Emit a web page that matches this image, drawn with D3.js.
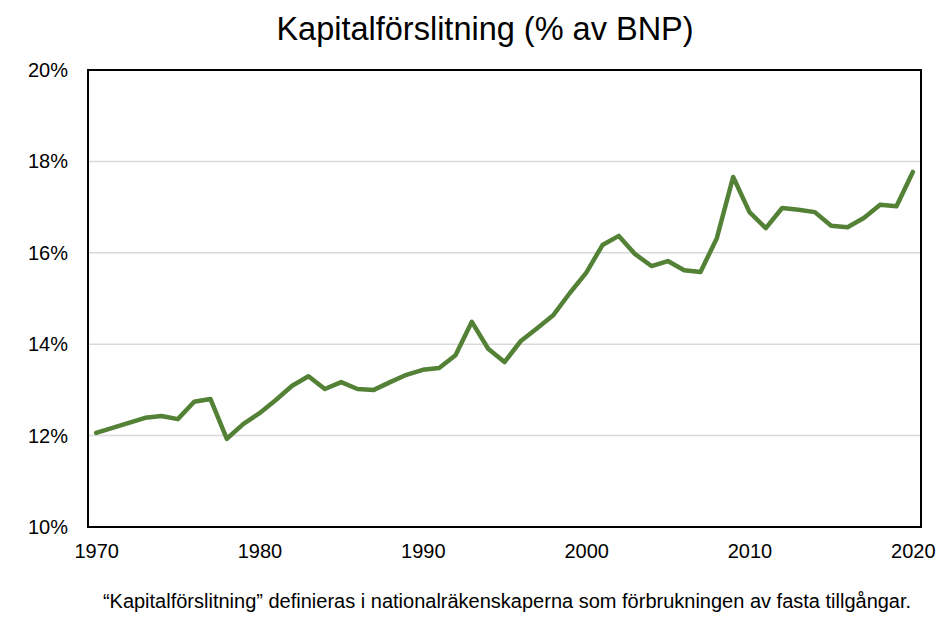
<!DOCTYPE html>
<html>
<head>
<meta charset="utf-8">
<script src="https://cdn.jsdelivr.net/npm/d3@7"></script>
<style>
  body { margin: 0; background: #fff; }
  text { font-family: "Liberation Sans", Arial, sans-serif; fill: #000; }
</style>
</head>
<body>
<figure style="margin:0"></figure>
<script>
// data
var years = d3.range(1970, 2021);
var values = [
  12.06, 12.17, 12.28, 12.39, 12.43, 12.36, 12.74, 12.80, 11.93, 12.25,
  12.49, 12.78, 13.09, 13.30, 13.02, 13.17, 13.02, 13.00, 13.17, 13.33,
  13.44, 13.48, 13.76, 14.49, 13.90, 13.61, 14.07, 14.35, 14.64, 15.12,
  15.56, 16.17, 16.37, 15.97, 15.71, 15.82, 15.62, 15.58, 16.32, 17.66,
  16.89, 16.54, 16.98, 16.94, 16.89, 16.59, 16.56, 16.76, 17.05, 17.02,
  17.77
];
var yTicks = [10, 12, 14, 16, 18, 20];
var xTicks = [1970, 1980, 1990, 2000, 2010, 2020];
var title = "Kapitalförslitning (% av BNP)";
var note = "\u201CKapitalförslitning\u201D definieras i nationalräkenskaperna som förbrukningen av fasta tillgångar.";

var W = 952, H = 620;
var margin = {top: 70, right: 31, bottom: 93, left: 88},
    width = W - margin.left - margin.right,
    height = H - margin.top - margin.bottom;

var svg = d3.select("figure").append("svg")
    .attr("width", W)
    .attr("height", H);

var g = svg.append("g")
    .attr("transform", "translate(" + margin.left + "," + margin.top + ")");

// category style x axis: points sit in the middle of each band
var x = d3.scalePoint()
    .domain(years)
    .range([0, width])
    .padding(0.5);
var y = d3.scaleLinear()
    .domain([10, 20])
    .range([height, 0]);

// gridlines
g.append("g")
    .selectAll("line")
    .data(yTicks.slice(1, -1))
    .enter().append("line")
    .attr("x1", 0)
    .attr("x2", width)
    .attr("y1", function(d) { return y(d); })
    .attr("y2", function(d) { return y(d); })
    .attr("stroke", "#d9d9d9")
    .attr("stroke-width", 1.5);

// y axis labels
var yaxis = d3.axisLeft(y)
    .tickValues(yTicks)
    .tickSize(0)
    .tickPadding(20)
    .tickFormat(function(d) { return d + "%"; });
g.append("g")
    .attr("class", "y axis")
    .call(yaxis)
    .call(function(s) { s.select(".domain").remove(); })
    .selectAll("text")
    .style("font-size", "20px");

// x axis labels
var xaxis = d3.axisBottom(x)
    .tickValues(xTicks)
    .tickSize(0)
    .tickPadding(17);
g.append("g")
    .attr("class", "x axis")
    .attr("transform", "translate(0," + height + ")")
    .call(xaxis)
    .call(function(s) { s.select(".domain").remove(); })
    .selectAll("text")
    .style("font-size", "20px");

// the line
var valueline = d3.line()
    .x(function(d, i) { return x(years[i]); })
    .y(function(d) { return y(d); });

g.append("path")
    .datum(values)
    .attr("fill", "none")
    .attr("stroke", "#538135")
    .attr("stroke-width", 4.5)
    .attr("stroke-linejoin", "round")
    .attr("stroke-linecap", "round")
    .attr("d", valueline);

// plot border
g.append("rect")
    .attr("width", width)
    .attr("height", height)
    .attr("fill", "none")
    .attr("stroke", "#000")
    .attr("stroke-width", 2);

svg.append("text")
    .attr("x", 485)
    .attr("y", 40)
    .attr("text-anchor", "middle")
    .style("font-size", "32.5px")
    .text(title);

svg.append("text")
    .attr("x", 507)
    .attr("y", 608)
    .attr("text-anchor", "middle")
    .style("font-size", "20px")
    .text(note);
</script>
</body>
</html>
